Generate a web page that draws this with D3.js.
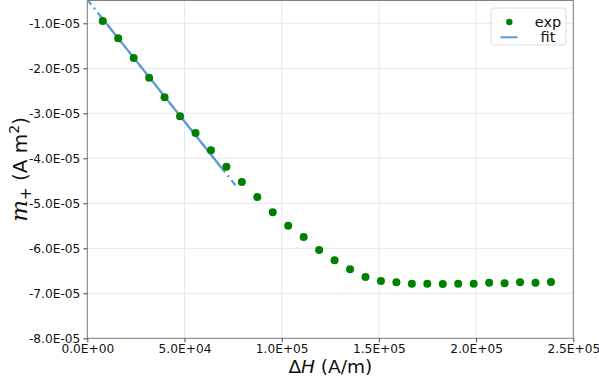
<!DOCTYPE html>
<html><head><meta charset="utf-8">
<script src="https://cdn.jsdelivr.net/npm/d3@7"></script>
<style>
html,body{margin:0;padding:0;background:#fff;}
svg{display:block;font-family:"DejaVu Sans",sans-serif;}
</style></head>
<body>
<svg id="chart" width="599" height="385"></svg>
<script>
// ----- data -----
const fieldH = [7950,15900,23850,31800,39750,47700,55650,63600,71550,79500,
  87450,95400,103350,111300,119250,127200,135150,143100,151050,159000,
  166950,174900,182850,190800,198750,206700,214650,222600,230550,238500];
const momentExp = [-0.949e-5,-1.333e-5,-1.771e-5,-2.209e-5,-2.644e-5,-3.067e-5,-3.438e-5,-3.822e-5,
  -4.187e-5,-4.527e-5,-4.860e-5,-5.200e-5,-5.498e-5,-5.749e-5,-6.038e-5,-6.267e-5,
  -6.467e-5,-6.638e-5,-6.727e-5,-6.756e-5,-6.787e-5,-6.787e-5,-6.793e-5,-6.787e-5,
  -6.787e-5,-6.764e-5,-6.778e-5,-6.756e-5,-6.764e-5,-6.749e-5];
// fit line (extension, dash-dot) and fitted region (solid)
const fitH = [0, 77200];
const fitM = [-0.473e-5, -4.653e-5];
const fitSolidH = [6500, 69000];
const xTicks = [0, 5e4, 1e5, 1.5e5, 2e5, 2.5e5];
const yTicks = [-1e-5,-2e-5,-3e-5,-4e-5,-5e-5,-6e-5,-7e-5,-8e-5];
const legendLabels = ["exp", "fit"];

// ----- layout -----
const svg = d3.select("#chart");
const L = 87.3, R = 573.3, T = 0.5, B = 338.3;
const x = d3.scaleLinear().domain([0, 2.5e5]).range([L, R]);
const y = d3.scaleLinear().domain([-8e-5, -0.4933e-5]).range([B, T]);
const fitLine = h => fitM[0] + (fitM[1]-fitM[0]) * (h - fitH[0]) / (fitH[1]-fitH[0]);

function sci(v){
  if (v === 0) return "0.0E+00";
  const e = Math.floor(Math.log10(Math.abs(v)) + 1e-9);
  const m = v / Math.pow(10, e);
  const es = (e < 0 ? "-" : "+") + String(Math.abs(e)).padStart(2, "0");
  return m.toFixed(1) + "E" + es;
}

const grid = "#e6e6f7", green = "#008000", blue = "#5b9bd5", spine = "#808080";

// grid
svg.append("g").selectAll("line").data(xTicks).join("line")
  .attr("x1", d => x(d)).attr("x2", d => x(d)).attr("y1", T).attr("y2", B)
  .attr("stroke", grid).attr("stroke-width", 1);
svg.append("g").selectAll("line").data(yTicks).join("line")
  .attr("x1", L).attr("x2", R).attr("y1", d => y(d)).attr("y2", d => y(d))
  .attr("stroke", grid).attr("stroke-width", 1);

const plot = svg.append("g");
plot.append("clipPath").attr("id","clip").append("rect")
  .attr("x", L).attr("y", T).attr("width", R-L).attr("height", B-T);

// fit line dash-dot over full range
const lineGen = d3.line().x(d => x(d[0])).y(d => y(d[1]));
const gFit = plot.append("g").attr("clip-path","url(#clip)");
gFit.append("path")
  .attr("d", lineGen(fitH.map((h,i) => [h, fitM[i]])))
  .attr("fill","none").attr("stroke", blue).attr("stroke-width", 2.2)
  .attr("stroke-dasharray", "6.5,4,2,4");
gFit.append("path")
  .attr("d", lineGen(fitSolidH.map(h => [h, fitLine(h)])))
  .attr("fill","none").attr("stroke", blue).attr("stroke-width", 2.2);

// points
plot.append("g").selectAll("circle").data(fieldH).join("circle")
  .attr("cx", d => x(d)).attr("cy", (d,i) => y(momentExp[i])).attr("r", 4)
  .attr("fill", green);

// spines
const sp = svg.append("g").attr("stroke", spine).attr("stroke-width", 1).attr("fill","none");
sp.append("rect").attr("x", L).attr("y", T).attr("width", R-L).attr("height", B-T);

// axes
const xAxis = d3.axisBottom(x).tickValues(xTicks).tickFormat(sci).tickSize(4).tickPadding(2.5);
const yAxis = d3.axisLeft(y).tickValues(yTicks).tickFormat(sci).tickSize(4).tickPadding(3);
const gx = svg.append("g").attr("transform", `translate(0,${B})`).call(xAxis);
const gy = svg.append("g").attr("transform", `translate(${L},0)`).call(yAxis);
[gx, gy].forEach(g => {
  g.select(".domain").remove();
  g.selectAll(".tick line").attr("stroke", "#444");
  g.selectAll("text").attr("font-family", "DejaVu Sans").attr("font-size", 12.2).attr("fill", "#111");
});

// axis labels
const xl = svg.append("text").attr("x", (L+R)/2).attr("y", 373)
  .attr("text-anchor","middle").attr("font-size", 18.5).attr("fill","#111");
xl.append("tspan").text("\u0394");
xl.append("tspan").attr("font-style","italic").text("H");
xl.append("tspan").text(" (A/m)");

const yl = svg.append("text").attr("transform", `translate(27,${(T+B)/2}) rotate(-90)`)
  .attr("text-anchor","middle").attr("font-size", 20).attr("fill","#111");
yl.append("tspan").attr("font-family","DejaVu Serif").attr("font-style","italic").attr("font-size", 23).text("m");
yl.append("tspan").attr("font-size", 15).attr("dy", 4).text("+");
yl.append("tspan").attr("dy", -4).text(" (A m");
yl.append("tspan").attr("font-size", 14).attr("dy", -8).text("2");
yl.append("tspan").attr("dy", 8).text(")");

// legend
const lg = svg.append("g");
lg.append("rect").attr("x", 491).attr("y", 8).attr("width", 75).attr("height", 37).attr("rx", 3)
  .attr("fill","#fff").attr("fill-opacity",0.8).attr("stroke","#dcdcdc");
lg.append("circle").attr("cx", 509.3).attr("cy", 22).attr("r", 3.2).attr("fill", green);
lg.append("line").attr("x1", 500.5).attr("x2", 517.5).attr("y1", 37.3).attr("y2", 37.3)
  .attr("stroke", blue).attr("stroke-width", 2);
lg.selectAll("text.lab").data(legendLabels).join("text").attr("class","lab")
  .attr("x", 548).attr("y", (d,i) => 27 + i*15).attr("text-anchor","middle")
  .attr("font-size", 14.5).attr("fill","#111").text(d => d);
</script>
</body></html>
